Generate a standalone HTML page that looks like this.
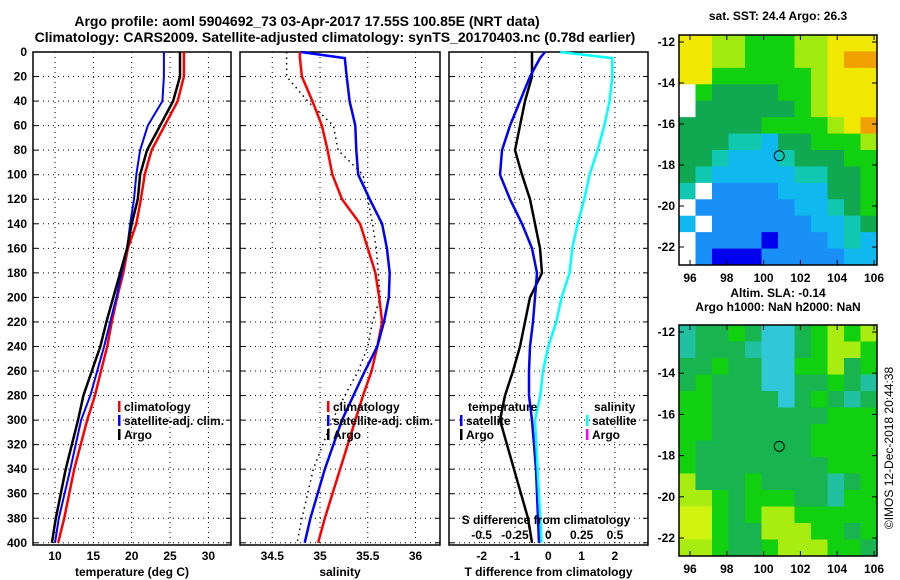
<!DOCTYPE html>
<html><head><meta charset="utf-8">
<style>
body{margin:0;background:#fff;}
svg{display:block;font-family:"Liberation Sans",sans-serif;font-weight:bold;}
</style></head>
<body>
<svg id="c" width="900" height="580" viewBox="0 0 900 580">
<text x="307" y="26" font-size="14" text-anchor="middle">Argo profile: aoml 5904692_73 03-Apr-2017 17.55S 100.85E (NRT data)</text>
<text x="335" y="42" font-size="14" text-anchor="middle">Climatology: CARS2009. Satellite-adjusted climatology: synTS_20170403.nc (0.78d earlier)</text>
<g id="g"></g>
</svg>
<script>
// ---- data ----
const depths = [0,5,20,40,60,80,100,120,140,160,180,200,220,240,260,280,300,340,380,400];
const tempClim = [26.8,26.8,26.8,26.0,24.3,22.6,21.7,21.2,20.6,19.5,18.9,18.1,17.4,16.8,16.0,15.2,14.2,12.5,11.2,10.4];
const tempSat  = [24.2,24.2,24.2,24.0,22.1,21.1,20.6,20.3,19.8,19.4,18.7,18.0,17.2,16.4,15.5,14.6,13.4,12.0,10.5,10.0];
const tempArgo = [26.3,26.3,26.3,25.4,23.7,22.0,21.1,20.8,20.0,19.4,18.5,17.6,16.7,15.9,14.8,13.7,13.0,11.4,10.1,9.6];
const salClim = [34.79,34.79,34.81,34.92,35.02,35.08,35.13,35.23,35.42,35.50,35.58,35.62,35.65,35.60,35.54,35.45,35.37,35.21,35.05,34.98];
const salSat  = [34.80,35.26,35.28,35.31,35.37,35.38,35.40,35.52,35.65,35.70,35.73,35.72,35.67,35.60,35.47,35.35,35.23,35.05,34.90,34.84];
const salArgo = [34.65,34.65,34.65,34.87,35.14,35.19,35.45,35.50,35.55,35.59,35.61,35.63,35.55,35.50,35.40,35.26,35.13,34.93,34.81,34.76];
const tDiffArgo = [-0.49,-0.49,-0.49,-0.70,-0.85,-1.0,-0.79,-0.55,-0.40,-0.25,-0.19,-0.55,-0.70,-0.85,-1.06,-1.30,-1.45,-1.03,-0.61,-0.49];
const tDiffSat  = [-0.10,-0.25,-0.55,-0.85,-1.15,-1.39,-1.45,-1.15,-0.79,-0.49,-0.34,-0.40,-0.46,-0.55,-0.58,-0.58,-0.49,-0.37,-0.31,-0.28];
const sDiffSat  = [0.09,0.48,0.48,0.46,0.42,0.37,0.31,0.27,0.22,0.18,0.16,0.10,0.06,0.00,-0.04,-0.06,-0.10,-0.08,-0.06,-0.05];
const yTicks = [0,20,40,60,80,100,120,140,160,180,200,220,240,260,280,300,320,340,360,380,400];
const tTicks = [10,15,20,25,30];
const sTicks = [34.5,35,35.5,36];
const dTicks = [-2,-1,0,1,2];
const sdTicks = [-0.5,-0.25,0,0.25,0.5];
const lonTicks = [96,98,100,102,104,106];
const latTicks = [-12,-14,-16,-18,-20,-22];
const argoLon = 100.85, argoLat = -17.55;
const sstGrid = [
"887766677888","887766677899","886666667888","065555667888","055555567888",
"555556666789","555443556667","554333455566","543333344556","402222333556",
"022222233456","302222223345","022221222343","021112222233"];
const slaGrid = [
"cddgdbbdgygy","cdddcbbdgyyg","ddgddbbggydg","dgdddbbddgdc","ggddddbdgdcd",
"ggdddddddggg","ggddddddgggg","gdddddddgggg","gddddddddggg","ydddgddddcdg",
"yygdgggddcgg","YYgdgyyggggg","YYgddyyyggdg","yygddgyyyggd"];
// ---- rendering ----
const NS="http://www.w3.org/2000/svg";
const G=document.getElementById('g');
function mk(tag,attrs,parent,txt){const e=document.createElementNS(NS,tag);for(const k in attrs)e.setAttribute(k,attrs[k]);if(txt!==undefined)e.textContent=txt;(parent||G).appendChild(e);return e;}
const yTop=52, yBot=545;
const yS=d=>yTop+d*1.227;
const panels=[
 {x0:33,x1:231,f:v=>55+(v-10)*7.67,ticks:tTicks,title:"temperature (deg C)",name:"temperature-panel"},
 {x0:240,x1:440,f:v=>320+(v-35)*95.5,ticks:sTicks,title:"salinity",name:"salinity-panel"},
 {x0:449,x1:648,f:v=>548.3+v*33.3,ticks:dTicks,title:"T difference from climatology",name:"difference-panel"}];
const fs=v=>548.3+v*133.3;
panels.forEach((p,pi)=>{
 const pg=mk('g',{});
 
 
 yTicks.forEach(d=>{
  const l=mk('line',{x1:p.x0,x2:p.x1,y1:yS(d),y2:yS(d),stroke:'#000','stroke-width':1,'stroke-dasharray':'1,4'},pg);
  
  
  mk('line',{x1:p.x0,x2:p.x0+5,y1:yS(d),y2:yS(d),stroke:'#000'},pg);
  mk('line',{x1:p.x1-5,x2:p.x1,y1:yS(d),y2:yS(d),stroke:'#000'},pg);
 });
 p.ticks.forEach(t=>{
  const l=mk('line',{x1:p.f(t),x2:p.f(t),y1:yTop,y2:yBot,stroke:'#000','stroke-dasharray':'1,4'},pg);
  
  
  const tx=mk('text',{x:p.f(t),y:560,'font-size':12,'text-anchor':'middle'},pg,String(t));
  
  
 });
 const fr=mk('rect',{x:p.x0,y:yTop,width:p.x1-p.x0,height:yBot-yTop,fill:'none',stroke:'#000','stroke-width':1.5},pg);
 
 
 const at=mk('text',{x:(p.x0+p.x1)/2,y:576,'font-size':12,'text-anchor':'middle'},pg,p.title);
 
 
});
yTicks.forEach(d=>{
 const t=mk('text',{x:27,y:yS(d)+4,'font-size':12,'text-anchor':'end'},G,String(d));
 
 
});
function line(vals,fx,color,w,name,dash){
 const pts=vals.map((v,i)=>fx(v).toFixed(1)+','+yS(depths[i]).toFixed(1)).join(' ');
 const a={points:pts,fill:'none',stroke:color,'stroke-width':w};
 if(dash)a['stroke-dasharray']=dash;
 const e=mk('polyline',a);
 
 
}
line(tempClim,panels[0].f,'#f00',2.5,'temp-climatology-line');
line(tempSat,panels[0].f,'#00f',2,'temp-satellite-line');
line(tempArgo,panels[0].f,'#000',2.5,'temp-argo-line');
line(salArgo,panels[1].f,'#000',1.5,'sal-argo-line','1.5,4');
line(salClim,panels[1].f,'#f00',2.5,'sal-climatology-line');
line(salSat,panels[1].f,'#00f',2.5,'sal-satellite-line');
line(tDiffArgo,panels[2].f,'#000',2.5,'tdiff-argo-line');
line(tDiffSat,panels[2].f,'#00f',2.5,'tdiff-satellite-line');
line(sDiffSat,fs,'#0ff',2.5,'sdiff-satellite-line');
// in-panel S axis
sdTicks.forEach(t=>{
 const e=mk('text',{x:fs(t),y:539,'font-size':12,'text-anchor':'middle'},G,String(t));
 
 
});
const sdt=mk('text',{x:546,y:524,'font-size':12,'text-anchor':'middle'},G,'S difference from climatology');


// legends
function leg(x,y,color,label,name){
 mk('rect',{x:x,y:y-6,width:2.5,height:11,fill:color});
 const t=mk('text',{x:x+6,y:y+4,'font-size':12},G,label);
 
 
}
leg(118,407,'#f00','climatology','legend-climatology');
leg(118,421,'#00f','satellite-adj. clim.','legend-satellite-adj');
leg(118,435,'#000','Argo','legend-argo');
leg(327,407,'#f00','climatology','legend-climatology-sal');
leg(327,421,'#00f','satellite-adj. clim.','legend-satellite-adj-sal');
leg(327,435,'#000','Argo','legend-argo-sal');
const lt=mk('text',{x:468,y:411,'font-size':12},G,'temperature');


leg(460,421,'#00f','satellite','legend-t-satellite');
leg(460,435,'#000','Argo','legend-t-argo');
const ls=mk('text',{x:594,y:411,'font-size':12},G,'salinity');


leg(586,421,'#0ff','satellite','legend-s-satellite');
leg(586,435,'#f0f','Argo','legend-s-argo');
// maps
const sstCol={'0':'#fff','1':'#0000f0','2':'#1890f8','3':'#10b8f0','4':'#10c8b0','5':'#10a850','6':'#10d010','7':'#a0ea10','8':'#f0e800','9':'#f0a000'};
const slaCol={c:'#20c0a0',b:'#30c8d8',d:'#18b450',g:'#10d010',y:'#a8ec10',Y:'#d0f410'};
function map(y0,y1,grid,cols,name,title1,title2){
 const x0=679,x1=877;
 const lonF=l=>690+(l-96)*18.4;
 const latF=la=>(y0+7)+(-12-la)*((y1-y0-25)/10);
 const mg=mk('g',{});
 
 
 const R=grid.length,C=grid[0].length,cw=(x1-x0)/C,ch=(y1-y0)/R;
 grid.forEach((row,r)=>{for(let c=0;c<C;c++){
  const cell=mk('rect',{x:x0+c*cw,y:y0+r*ch,width:cw+0.5,height:ch+0.5,fill:cols[row[c]]},mg);
  
  
 }});
 mk('rect',{x:x0,y:y0,width:x1-x0,height:y1-y0,fill:'none',stroke:'#000','stroke-width':1.5},mg);
 lonTicks.forEach(l=>{
  mk('line',{x1:lonF(l),x2:lonF(l),y1:y1,y2:y1-5,stroke:'#000'},mg);
  mk('line',{x1:lonF(l),x2:lonF(l),y1:y0,y2:y0+5,stroke:'#000'},mg);
  const t=mk('text',{x:lonF(l),y:y1+17,'font-size':12,'text-anchor':'middle'},mg,String(l));
  
  
 });
 latTicks.forEach(la=>{
  mk('line',{x1:x0,x2:x0+5,y1:latF(la),y2:latF(la),stroke:'#000'},mg);
  mk('line',{x1:x1-5,x2:x1,y1:latF(la),y2:latF(la),stroke:'#000'},mg);
  const t=mk('text',{x:x0-4,y:latF(la)+4,'font-size':12,'text-anchor':'end'},mg,String(la));
  
  
 });
 const m=mk('circle',{cx:lonF(argoLon),cy:latF(argoLat),r:5,fill:'none',stroke:'#000','stroke-width':1},mg);
 
 
 const t1=mk('text',{x:778,y:title2?y0-28:y0-15,'font-size':12,'text-anchor':'middle'},mg,title1);
 
 
 if(title2){const t2=mk('text',{x:778,y:y0-14,'font-size':12,'text-anchor':'middle'},mg,title2);
  
  }
}
map(35,265,sstGrid,sstCol,'sst-map','sat. SST: 24.4 Argo: 26.3');
map(325,556,slaGrid,slaCol,'sla-map','Altim. SLA: -0.14','Argo h1000: NaN h2000: NaN');
const cp=mk('text',{x:0,y:0,'font-size':12,'font-weight':'normal','text-anchor':'middle',transform:'translate(893,448) rotate(-90)'},G,'©IMOS 12-Dec-2018 20:44:38');


</script>
</body></html>
